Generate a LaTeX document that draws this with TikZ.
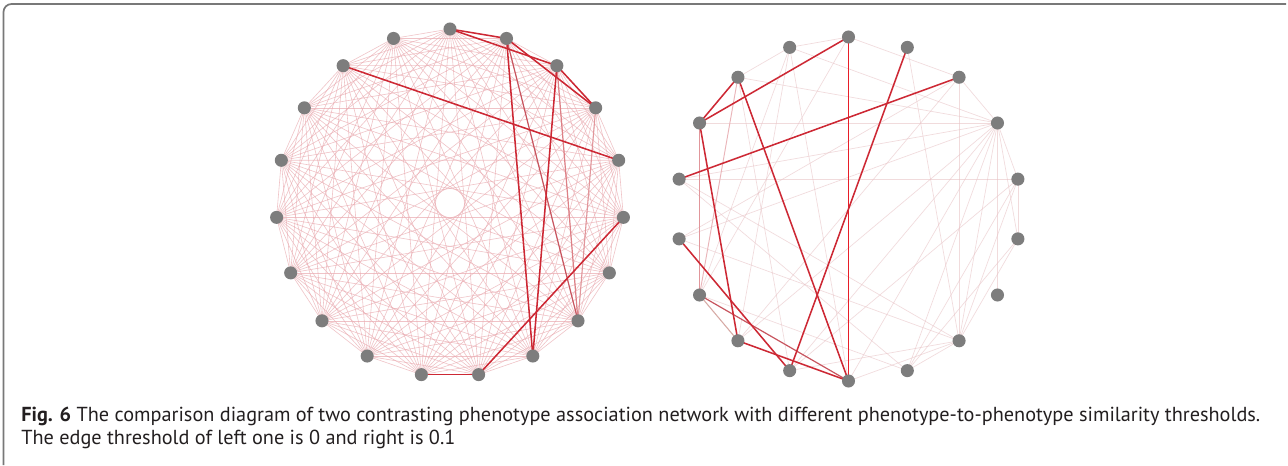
\documentclass[tikz,border=0pt]{standalone}
\usepackage{fontspec}
\setmainfont{PT Sans}
\begin{document}
\begin{tikzpicture}[x=0.75pt,y=-0.75pt,
  vtx/.style={circle,fill=vgray,draw=none,minimum size=9.8pt,inner sep=0pt},
  faint/.style={draw=pinkl,line width=0.45pt,opacity=0.7},
  rfaint/.style={draw=pinkr,line width=0.5pt,opacity=0.6},
  dark/.style={draw=darkred,line width=1.15pt},
  bright/.style={draw=brightred,line width=1.1pt},
  med/.style={draw=medred,line width=0.9pt},
  lite/.style={draw=litered,line width=0.8pt},
  framestyle/.style={draw=framegray,line width=1.3pt,rounded corners=6pt},
  captxt/.style={anchor=base west,inner sep=0pt,text=captext,font=\fontsize{15.2pt}{18pt}\selectfont}]
\definecolor{vgray}{RGB}{125,125,125}
\definecolor{pinkl}{RGB}{234,170,176}
\definecolor{pinkr}{RGB}{232,195,198}
\definecolor{darkred}{RGB}{205,40,52}
\definecolor{brightred}{RGB}{232,30,40}
\definecolor{medred}{RGB}{200,85,95}
\definecolor{litered}{RGB}{225,150,155}
\definecolor{framegray}{RGB}{120,120,120}
\definecolor{captext}{RGB}{35,31,32}
\useasboundingbox (0,0) rectangle (1288,465);
\fill[white] (0,0) rectangle (1288,465);
% frame
\coordinate (fa) at (3.5,465);
\coordinate (fb) at (3.5,4);
\coordinate (fc) at (1286,4);
\draw[framestyle] (fa) -- (fb) -- (fc);
% ---------- left network (19 nodes) ----------
\foreach \k in {0,...,18}{
  \path (450,203) ++({-90+\k*360/19}:174) coordinate (L\k);
}
\foreach \i in {0,...,17}{
  \pgfmathtruncatemacro{\s}{\i+1}
  \foreach \j in {\s,...,18}{
    \draw[faint] (L\i) -- (L\j);
  }
}
\draw[lite] (L3) -- (L7);
\draw[litered!80!darkred,line width=0.9pt] (L2) -- (L7);
\draw[med] (L1) -- (L7);
\draw[dark] (L0) -- (L1);
\draw[dark] (L0) -- (L2);
\draw[dark] (L1) -- (L3);
\draw[dark] (L2) -- (L3);
\draw[dark] (L17) -- (L4);
\draw[dark] (L1) -- (L8);
\draw[dark] (L2) -- (L8);
\draw[dark] (L5) -- (L9);
\draw[dark] (L9) -- (L10);
\foreach \k in {0,...,18}{
  \node[vtx] (Lv\k) at (L\k) {};
}
% ---------- right network (18 nodes) ----------
\foreach \k in {0,...,17}{
  \path (848.5,209) ++({-90+\k*20}:172) coordinate (R\k);
}
\foreach \a/\b in {17/0,17/16,17/11,17/9,17/3,17/12,0/2,0/12,16/3,15/3,
  14/3,14/4,14/7,14/8,13/3,13/7,13/2,12/8,11/3,10/7,10/3,10/4,9/3,9/7,
  8/7,8/3,8/4,8/5,7/2,7/1,7/3,7/4,7/5,3/6,3/5,4/5,3/2,3/4,16/10,11/2}{
  \draw[rfaint] (R\a) -- (R\b);
}
\draw[draw=litered!70!white,line width=0.7pt] (R16) -- (R12);
\draw[draw={rgb,255:red,215;green,170;blue,165},line width=0.8pt] (R12) -- (R11);
\draw[lite] (R15) -- (R12);
\draw[med] (R12) -- (R9);
\draw[dark] (R15) -- (R16);
\draw[dark] (R15) -- (R0);
\draw[bright] (R0) -- (R9);
\draw[dark] (R16) -- (R9);
\draw[dark] (R1) -- (R10);
\draw[dark] (R2) -- (R14);
\draw[dark] (R15) -- (R11);
\draw[dark] (R13) -- (R10);
\draw[dark] (R11) -- (R9);
\foreach \k in {0,...,17}{
  \node[vtx] (Rv\k) at (R\k) {};
}
% ---------- caption ----------
\node[captxt] (c1) at (21,421) {\textbf{Fig. 6} The comparison diagram of two contrasting phenotype association network with different phenotype-to-phenotype similarity thresholds.};
\node[captxt] (c2) at (21,444) {The edge threshold of left one is 0 and right is 0.1};
\end{tikzpicture}
\end{document}
